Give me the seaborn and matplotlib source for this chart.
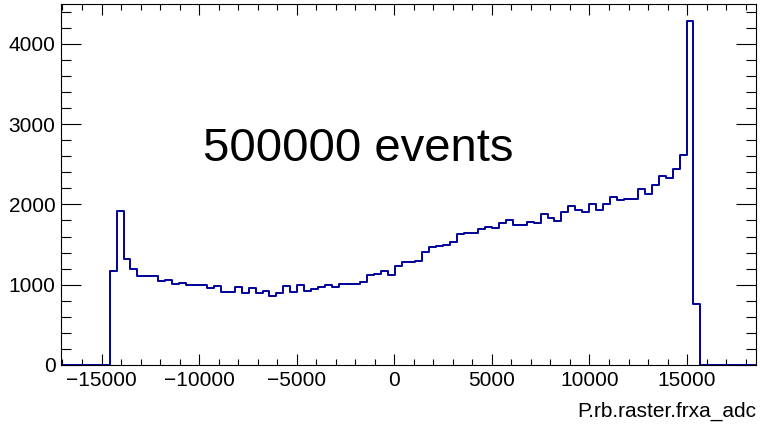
import numpy as np
import pandas as pd
import matplotlib
matplotlib.use("Agg")
import matplotlib.pyplot as plt
from matplotlib.ticker import MultipleLocator
import seaborn as sns

# Histogram binning of P.rb.raster.frxa_adc (100 equal bins)
x_min = -17075.0
x_max = 18530.0
n_bins = 100

# Bin contents: 7 empty bins, 85 filled bins, 8 empty bins
leading_empty = [0] * 7
filled_counts = [
    1175, 1916, 1321, 1200, 1104, 1113, 1104, 1050, 1063, 1004,
    1021, 992, 1000, 996, 954, 984, 904, 904, 971, 900,
    958, 891, 921, 854, 896, 984, 908, 1000, 925, 942,
    971, 1000, 967, 1013, 1004, 1004, 1034, 1120, 1133, 1166,
    1120, 1229, 1283, 1283, 1292, 1405, 1466, 1479, 1500, 1537,
    1634, 1650, 1650, 1688, 1717, 1704, 1770, 1808, 1742, 1742,
    1787, 1766, 1883, 1829, 1791, 1904, 1979, 1929, 1909, 2009,
    1929, 2004, 2091, 2050, 2071, 2063, 2196, 2133, 2246, 2354,
    2329, 2446, 2617, 4279, 763,
]
trailing_empty = [0] * 8
counts = np.array(leading_empty + filled_counts + trailing_empty, dtype=float)

edges = np.linspace(x_min, x_max, n_bins + 1)
centers = 0.5 * (edges[:-1] + edges[1:])
hist_df = pd.DataFrame({"adc": centers, "entries": counts})

annotation = "500000 events"
x_title = "P.rb.raster.frxa_adc"

sns.set_style("ticks")
plt.rcParams["font.family"] = ["Liberation Sans", "DejaVu Sans"]
plt.rcParams["text.color"] = "black"
plt.rcParams["axes.labelcolor"] = "black"

fig = plt.figure(figsize=(7.6, 4.28), dpi=100)
ax = fig.add_axes([61 / 760, 1 - 365 / 428, (756 - 61) / 760, (365 - 4.3) / 428])

sns.histplot(
    data=hist_df, x="adc", weights="entries", bins=list(edges),
    element="step", fill=False, color="#000099", linewidth=1.4, ax=ax,
)

ax.set_xlim(x_min, x_max)
ax.set_ylim(0, 1.05 * counts.max())
ax.set_ylabel("")
ax.set_xlabel(x_title, loc="right", fontsize=15, labelpad=9, color="black")

ax.xaxis.set_major_locator(MultipleLocator(5000))
ax.xaxis.set_minor_locator(MultipleLocator(1000))
ax.yaxis.set_major_locator(MultipleLocator(1000))
ax.yaxis.set_minor_locator(MultipleLocator(200))

ax.tick_params(axis="both", which="both", direction="in", top=True, right=True,
               colors="black", labelcolor="black", labelsize=15, width=0.8)
ax.tick_params(axis="x", which="major", length=8, pad=4)
ax.tick_params(axis="x", which="minor", length=4)
ax.tick_params(axis="y", which="major", length=14.5, pad=4)
ax.tick_params(axis="y", which="minor", length=7.2)

for side in ax.spines.values():
    side.set_linewidth(0.8)
    side.set_color("black")

ax.text(-9800, 2540, annotation, fontsize=34, ha="left", va="baseline",
        color="black")

fig.savefig("out.png", dpi=100)
